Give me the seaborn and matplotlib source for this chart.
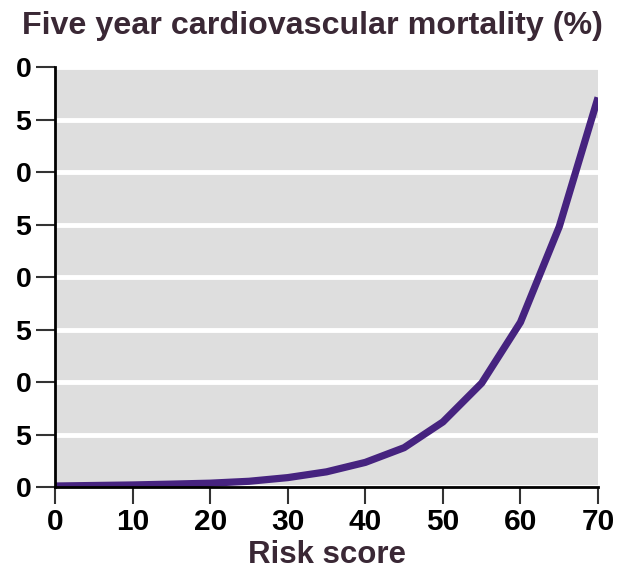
import matplotlib
matplotlib.use("Agg")
import matplotlib.pyplot as plt
import seaborn as sns
import pandas as pd

# risk score vs five year cardiovascular mortality
risk_score = [0, 5, 10, 15, 20, 25, 30, 35, 40, 45, 50, 55, 60, 65, 70]
mortality = [0.1, 0.15, 0.2, 0.28, 0.37, 0.55, 0.9, 1.45, 2.35, 3.75, 6.2, 9.9, 15.7, 24.8, 37.1]

x_ticks = [0, 10, 20, 30, 40, 50, 60, 70]
y_ticks = [0, 5, 10, 15, 20, 25, 30, 35, 40]
# the reference is cropped on the left, only the last digit of each label shows
y_tick_labels = ["0", "5", "0", "5", "0", "5", "0", "5", "0"]

LINE_COLOR = "#46237f"
TEXT_COLOR = "#3a2835"

sns.set_style("darkgrid", {
    "axes.facecolor": "#dedede",
    "grid.color": "white",
})
plt.rcParams["font.family"] = ["Liberation Sans", "DejaVu Sans"]

df = pd.DataFrame({"risk": risk_score, "mortality": mortality})

fig = plt.figure(figsize=(6.3, 5.71), dpi=100)
ax = fig.add_axes([0.0873, 0.147, 0.862, 0.7356])

sns.lineplot(data=df, x="risk", y="mortality", color=LINE_COLOR, linewidth=5.2,
             ax=ax, solid_capstyle="butt")

ax.set_xlim(0, 70)
ax.set_ylim(0, 40)
ax.set_xticks(x_ticks)
ax.set_xticklabels([str(t) for t in x_ticks], fontsize=21.5, fontweight="bold", color="black")
ax.set_yticks(y_ticks)
ax.set_yticklabels(y_tick_labels, fontsize=20.5, fontweight="bold", color="black")

ax.grid(axis="x", visible=False)
ax.grid(axis="y", color="white", linewidth=3.5)

for side in ("top", "right"):
    ax.spines[side].set_visible(False)
for side in ("left", "bottom"):
    ax.spines[side].set_visible(True)
    ax.spines[side].set_color("black")
    ax.spines[side].set_linewidth(2)

ax.tick_params(axis="y", length=14, width=1.5, color="#333333", pad=3, left=True)
ax.tick_params(axis="x", length=12, width=1.5, color="#333333", pad=3, bottom=True)

ax.set_xlabel("Risk score", fontsize=22.5, fontweight="bold", color=TEXT_COLOR, labelpad=3)
ax.set_ylabel("")

fig.text(0.035, 0.955, "Five year cardiovascular mortality (%)", fontsize=23.2,
         fontweight="bold", color=TEXT_COLOR, ha="left", va="center")

plt.savefig("out.png", dpi=100)
plt.close(fig)
